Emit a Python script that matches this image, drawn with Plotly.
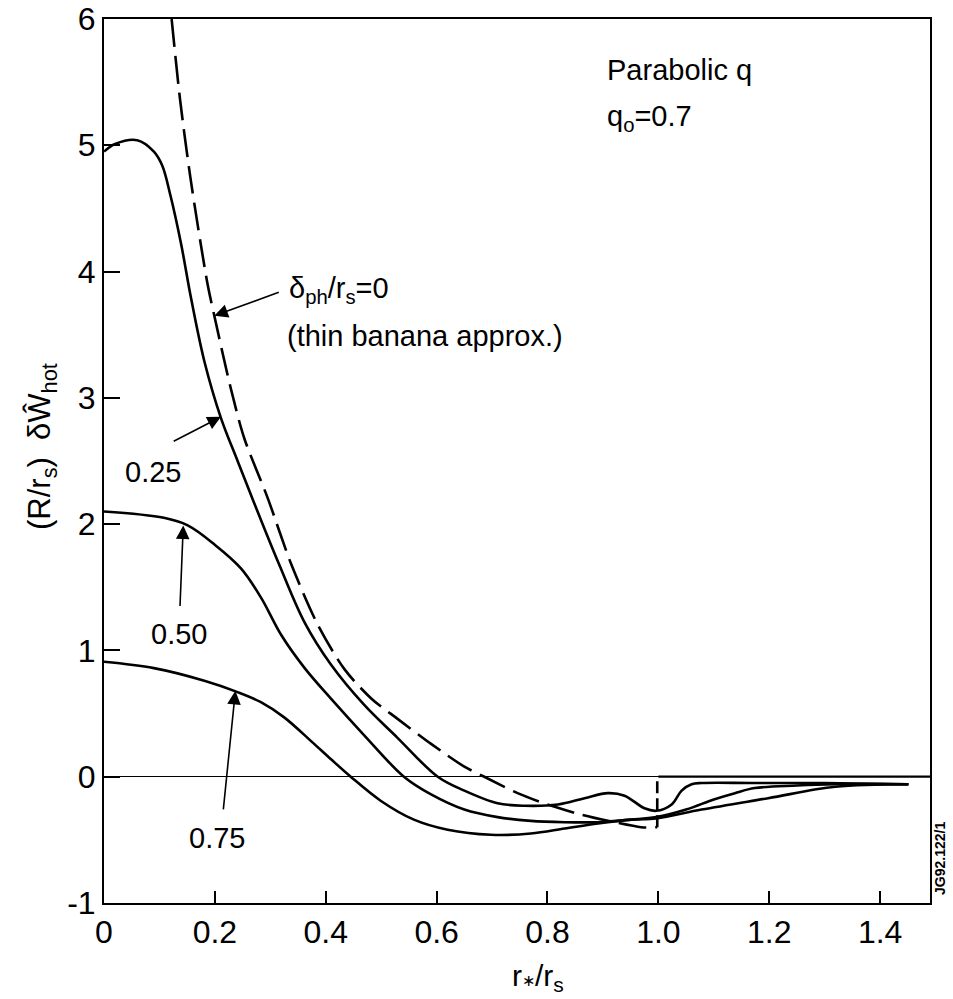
import plotly.graph_objects as go

# ---- data ----
x_d0 = [0.122, 0.137, 0.156, 0.186, 0.199, 0.229, 0.253, 0.295, 0.338, 0.386, 0.434, 0.482,
        0.529, 0.590, 0.650, 0.686, 0.746, 0.800, 0.861, 0.921, 0.969, 0.998]
y_d0 = [6.0, 5.37, 4.74, 3.92, 3.65, 3.07, 2.68, 2.21, 1.68, 1.20, 0.85, 0.62,
        0.46, 0.26, 0.08, 0.0, -0.13, -0.22, -0.30, -0.36, -0.40, -0.40]
x_d0_jump = [0.998, 0.998]
y_d0_jump = [-0.40, 0.0]
x_d0_tail = [1.0, 1.49]
y_d0_tail = [0.0, 0.0]

x_025 = [0.0, 0.02, 0.06, 0.09, 0.105, 0.12, 0.139, 0.157, 0.181, 0.211, 0.241, 0.277, 0.316, 0.362,
         0.409, 0.469, 0.529, 0.602, 0.650, 0.710, 0.758, 0.819, 0.867, 0.909, 0.939, 0.975,
         0.996, 1.024, 1.042, 1.06, 1.078, 1.174, 1.30, 1.451]
y_025 = [4.95, 5.01, 5.04, 4.95, 4.84, 4.6, 4.22, 3.79, 3.29, 2.84, 2.50, 2.10, 1.68, 1.22,
         0.89, 0.57, 0.31, 0.0, -0.11, -0.21, -0.23, -0.22, -0.17, -0.13, -0.15, -0.25,
         -0.27, -0.22, -0.11, -0.06, -0.05, -0.05, -0.05, -0.06]

x_050 = [0.0, 0.108, 0.151, 0.199, 0.247, 0.283, 0.320, 0.362, 0.409, 0.469, 0.541, 0.590,
         0.650, 0.710, 0.770, 0.831, 0.891, 0.951, 0.996, 1.05, 1.10, 1.138, 1.174, 1.25,
         1.319, 1.451]
y_050 = [2.10, 2.05, 1.99, 1.84, 1.65, 1.42, 1.12, 0.86, 0.62, 0.33, 0.0, -0.14,
         -0.26, -0.32, -0.35, -0.36, -0.36, -0.34, -0.32, -0.26, -0.18, -0.13, -0.09, -0.07,
         -0.06, -0.06]

x_075 = [0.0, 0.09, 0.181, 0.241, 0.283, 0.325, 0.374, 0.409, 0.445, 0.499, 0.559, 0.620,
         0.698, 0.770, 0.831, 0.891, 0.951, 0.996, 1.078, 1.198, 1.319, 1.451]
y_075 = [0.91, 0.86, 0.76, 0.67, 0.59, 0.47, 0.28, 0.14, 0.0, -0.19, -0.34, -0.42,
         -0.46, -0.45, -0.41, -0.37, -0.34, -0.33, -0.26, -0.17, -0.08, -0.06]

x_ticks = [0, 0.2, 0.4, 0.6, 0.8, 1.0, 1.2, 1.4]
x_tick_text = ["0", "0.2", "0.4", "0.6", "0.8", "1.0", "1.2", "1.4"]
y_ticks = [-1, 0, 1, 2, 3, 4, 5, 6]
y_tick_text = ["-1", "0", "1", "2", "3", "4", "5", "6"]

FONT = "Liberation Sans, Arial, Helvetica, sans-serif"
LW = 2.6

fig = go.Figure()
fig.add_trace(go.Scatter(x=x_d0, y=y_d0, mode="lines",
                         line=dict(color="black", width=LW, dash="28px,9px", shape="spline", smoothing=0.8)))
fig.add_trace(go.Scatter(x=x_d0_jump, y=y_d0_jump, mode="lines",
                         line=dict(color="black", width=LW, dash="12px,5px")))
fig.add_trace(go.Scatter(x=x_d0_tail, y=y_d0_tail, mode="lines",
                         line=dict(color="black", width=2.2)))
for xs, ys in [(x_025, y_025), (x_050, y_050), (x_075, y_075)]:
    fig.add_trace(go.Scatter(x=xs, y=ys, mode="lines",
                             line=dict(color="black", width=LW, shape="spline", smoothing=1.0)))

# reference pixel geometry of plot area: 104..930 (x), 19..903 (y)
def px(p):
    return (p - 104) / (930 - 104)
def py(p):
    return (903 - p) / (903 - 19)

ann = []
def txt(x, y, t, size=29, xanchor="center", yanchor="middle", angle=0, bold=False):
    ann.append(dict(x=x, y=y, xref="paper", yref="paper", text=("<b>%s</b>" % t) if bold else t,
                    showarrow=False, xanchor=xanchor, yanchor=yanchor, textangle=angle,
                    font=dict(family=FONT, size=size, color="black")))

def arrow(xt, yt, xa, ya):
    ann.append(dict(x=xt, y=yt, xref="x", yref="y", ax=xa, ay=ya, axref="x", ayref="y",
                    text="", showarrow=True, arrowhead=2, arrowsize=1.7, arrowwidth=1.6,
                    arrowcolor="black"))

txt(px(605), py(70), "Parabolic q", xanchor="left")
txt(px(605), py(118), "q<sub>o</sub>=0.7", xanchor="left")
txt(px(287), py(290), "δ<sub>ph</sub>/r<sub>s</sub>=0", xanchor="left")
txt(px(285), py(336), "(thin banana approx.)", xanchor="left")
txt(px(153), py(472), "0.25")
txt(px(179), py(634), "0.50")
txt(px(217), py(838), "0.75")
txt(px(940), py(858), "JG92.122/1", size=14, angle=-90, bold=True)
txt(px(42), py(446), "(R/r<sub>s</sub>)  δŴ<sub>hot</sub>", size=31, angle=-90)
txt(px(538), py(978), "r<span style='font-size:16px'>∗</span>/r<sub>s</sub>", size=30)

arrow(0.199, 3.65, 0.318, 3.84)   # delta=0 arrow
arrow(0.211, 2.85, 0.123, 2.65)   # 0.25
arrow(0.143, 1.99, 0.137, 1.34)   # 0.50
arrow(0.237, 0.68, 0.215, -0.27)  # 0.75

fig.update_layout(
    width=953, height=999,
    margin=dict(l=104, r=23, t=19, b=96),
    paper_bgcolor="white", plot_bgcolor="white",
    showlegend=False,
    annotations=ann,
    font=dict(family=FONT, size=32, color="black"),
)
fig.update_xaxes(range=[0, 1.49], tickvals=x_ticks, ticktext=x_tick_text, automargin=False,
                 showline=True, linecolor="black", linewidth=2, mirror=True,
                 ticks="inside", ticklen=12, tickwidth=2, tickcolor="black",
                 showgrid=False, zeroline=False,
                 tickfont=dict(family=FONT, size=32, color="black"))
fig.update_yaxes(range=[-1, 6], tickvals=y_ticks, ticktext=y_tick_text, automargin=False,
                 showline=True, linecolor="black", linewidth=2, mirror=True,
                 ticks="inside", ticklen=16, tickwidth=2, tickcolor="black",
                 showgrid=False, zeroline=True, zerolinecolor="black", zerolinewidth=1.3,
                 tickfont=dict(family=FONT, size=32, color="black"))

fig.write_html("out.html", config={"displayModeBar": False},
               post_script="document.body.style.margin='0px';")
